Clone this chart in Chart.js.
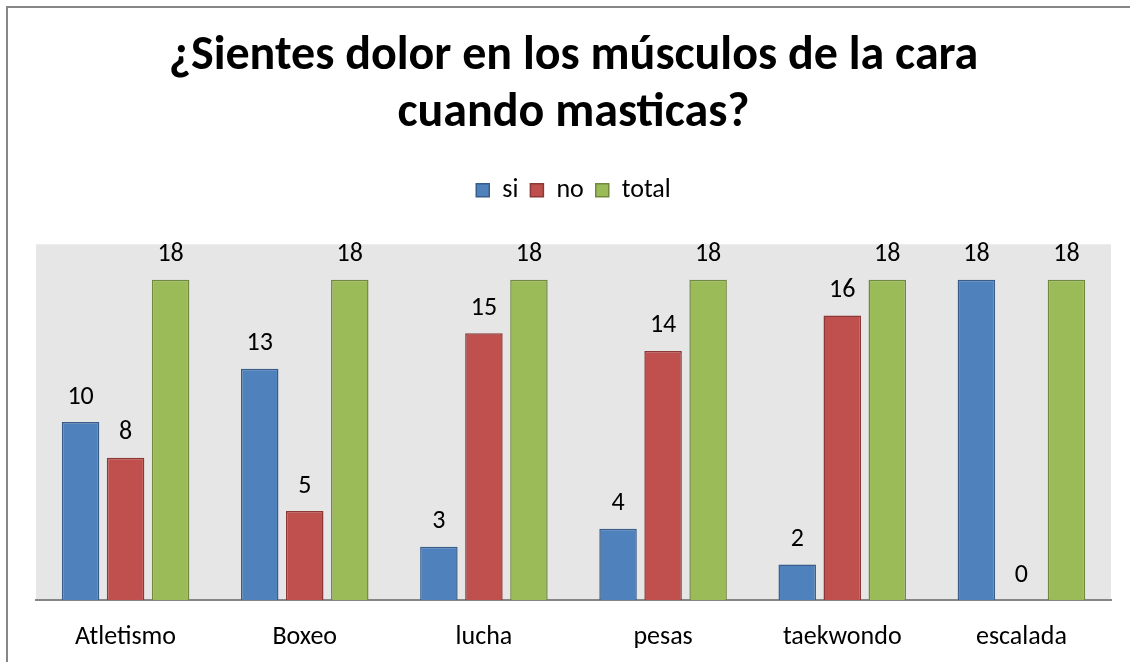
<!DOCTYPE html>
<html lang="es">
<head>
    <meta charset="UTF-8">
    <title>¿Sientes dolor en los músculos de la cara cuando masticas?</title>
    <script src="https://cdn.jsdelivr.net/npm/chart.js"></script>
    <style>
        html, body { margin: 0; padding: 0; background: #fff; overflow: hidden; }
        .frame { position: absolute; left: 6px; top: 6px; width: 1130px; height: 662px;
                 border-left: 2px solid #878787; border-top: 2px solid #878787; }
        #dolorChart { position: absolute; left: 0; top: 0; }
    </style>
</head>
<body>
    <canvas id="dolorChart" width="1130" height="662"></canvas>
    <div class="frame"></div>

    <script>
        // --- DATA ---
        const categories = ['Atletismo', 'Boxeo', 'lucha', 'pesas', 'taekwondo', 'escalada'];
        const siValues = [10, 13, 3, 4, 2, 18];
        const noValues = [8, 5, 15, 14, 16, 0];
        const totalValues = [18, 18, 18, 18, 18, 18];

        const FONT = 'Carlito, Lato, sans-serif';

        // gray plot background, like the Excel original
        const plotBackground = {
            id: 'plotBackground',
            beforeDraw(chart) {
                const { ctx, chartArea: a } = chart;
                ctx.save();
                ctx.fillStyle = '#E6E6E6';
                ctx.fillRect(a.left, a.top, a.right - a.left, a.bottom - a.top);
                ctx.restore();
            }
        };

        // value labels above each bar
        const valueLabels = {
            id: 'valueLabels',
            afterDatasetsDraw(chart) {
                const ctx = chart.ctx;
                ctx.save();
                ctx.font = '26px ' + FONT;
                ctx.fillStyle = '#000';
                ctx.textAlign = 'center';
                ctx.textBaseline = 'middle';
                chart.data.datasets.forEach((ds, i) => {
                    chart.getDatasetMeta(i).data.forEach((bar, j) => {
                        ctx.fillText(String(ds.data[j]), bar.x, bar.y - 25);
                    });
                });
                ctx.restore();
            }
        };

        // extra room under the legend
        const legendSpace = {
            id: 'legendSpace',
            afterInit(chart) {
                const legend = chart.legend;
                if (!legend) return;
                const origFit = legend.fit;
                legend.fit = function () {
                    origFit.call(this);
                    this.height += 31;
                };
            }
        };

        const ctx = document.getElementById('dolorChart').getContext('2d');
        new Chart(ctx, {
            type: 'bar',
            data: {
                labels: categories,
                datasets: [
                    { label: 'si', data: siValues, backgroundColor: '#4F81BD', borderColor: '#385D8A', borderWidth: 1.5 },
                    { label: 'no', data: noValues, backgroundColor: '#C0504D', borderColor: '#8C3836', borderWidth: 1.5 },
                    { label: 'total', data: totalValues, backgroundColor: '#9BBB59', borderColor: '#71893F', borderWidth: 1.5 }
                ]
            },
            options: {
                responsive: false,
                animation: false,
                layout: { padding: { left: 36, right: 19, top: 0, bottom: 0 } },
                datasets: { bar: { categoryPercentage: 0.754, barPercentage: 0.833 } },
                scales: {
                    x: {
                        grid: { display: false, drawTicks: false },
                        border: { display: true, color: '#868686', width: 2 },
                        ticks: { color: '#000', font: { family: FONT, size: 26 }, padding: 22 },
                        afterFit(scale) { scale.height = 62; }
                    },
                    y: { display: false, min: 0, max: 20 }
                },
                plugins: {
                    title: {
                        display: true,
                        text: ['¿Sientes dolor en los músculos de la cara', 'cuando masticas?'],
                        color: '#000',
                        font: { family: FONT, size: 48, weight: 'bold', lineHeight: 1.19 },
                        padding: { top: 28, bottom: 23 }
                    },
                    legend: {
                        labels: { color: '#000', font: { family: FONT, size: 26 }, boxWidth: 13, boxHeight: 13, padding: 12 }
                    },
                    tooltip: { enabled: false }
                }
            },
            plugins: [plotBackground, valueLabels, legendSpace]
        });
    </script>
</body>
</html>
